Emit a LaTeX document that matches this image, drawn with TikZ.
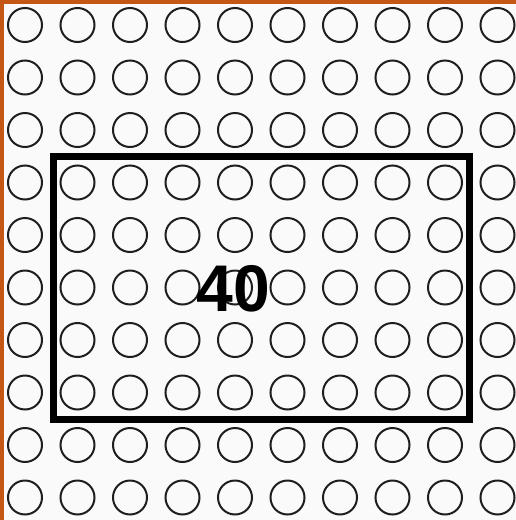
\documentclass[tikz,border=0pt]{standalone}
\usepackage{fontspec}
\setmainfont{Liberation Sans}
\usetikzlibrary{positioning,calc}
\definecolor{rust}{RGB}{196,86,22}
\definecolor{paper}{RGB}{250,250,250}
\definecolor{ink}{RGB}{30,30,30}

\begin{document}
\begin{tikzpicture}[x=1pt, y=-1pt]
\tikzstyle{dot}=[draw=ink, circle, line width=2pt, minimum size=34pt, inner sep=0pt]
\tikzstyle{frame}=[draw=black, line width=7pt]
\tikzstyle{count}=[font=\bfseries\fontsize{66}{66}\selectfont, inner sep=0pt]
\useasboundingbox (0,0) rectangle (516,520);
\fill[paper] (0,0) rectangle (516,520);
% border on top and left edge
\fill[rust] (0,0) rectangle (516,3.5);
\fill[rust] (0,0) rectangle (3.5,520);
% grid of circles
\foreach \i in {0,...,9}
  \foreach \j in {0,...,9}
    \node[dot] (c-\i-\j) at (25+52.5*\i, 25+52.5*\j) {};
% frame and label
\coordinate (nw) at (53,156);
\coordinate (se) at (469,419);
\draw[frame] (nw) rectangle (se);
\node[count] (label) at (233.5,289) {40};
\end{tikzpicture}
\end{document}
